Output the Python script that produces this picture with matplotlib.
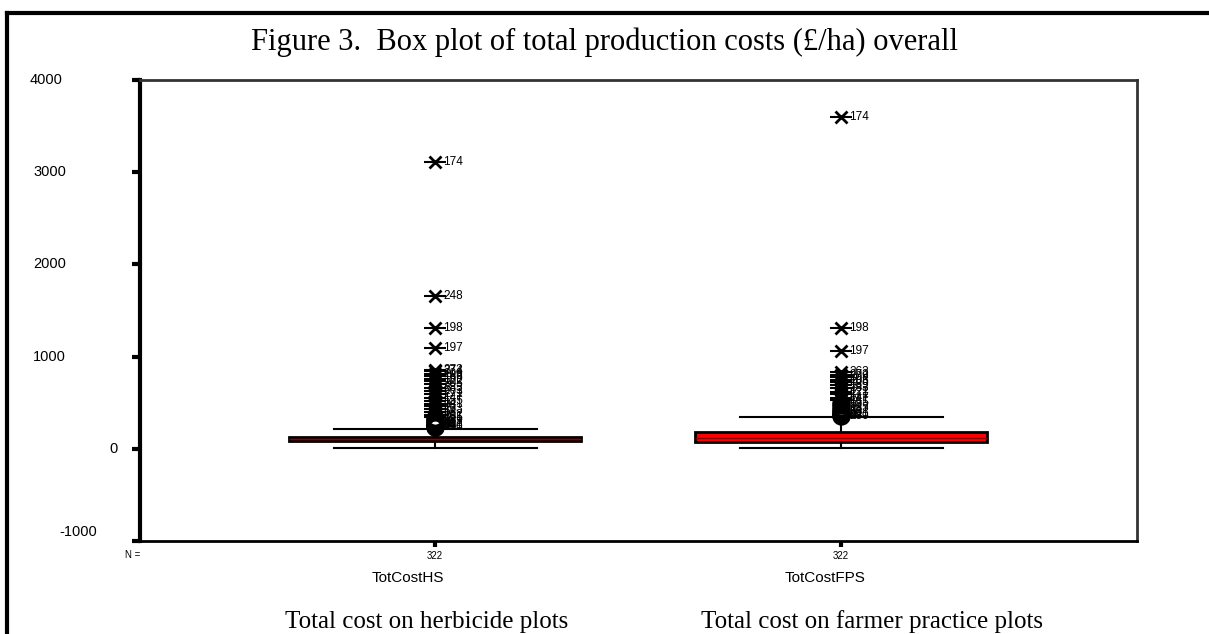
import matplotlib
matplotlib.use("Agg")
import matplotlib.pyplot as plt
from matplotlib.lines import Line2D

# box statistics (£/ha)
groups = ["TotCostHS", "TotCostFPS"]
n_cases = [322, 322]
whisker_low = [5, 10]
q1 = [87, 76]
median = [108, 120]
q3 = [130, 185]
whisker_high = [217, 348]

# extreme values (drawn as crosses) with their case numbers
hs_extreme = [3110, 1655, 1310, 1090, 860, 840, 815, 790, 760, 730, 700, 660, 625, 590, 555, 520, 490, 460, 430, 400, 370, 345]
hs_extreme_id = [174, 248, 198, 197, 272, 274, 209, 189, 169, 122, 205, 283, 263, 271, 147, 155, 241, 98, 133, 58, 212, 301]
fps_extreme = [3600, 1310, 1065, 830, 805, 780, 750, 720, 690, 655, 620, 590, 555, 525]
fps_extreme_id = [174, 198, 197, 263, 272, 209, 193, 205, 189, 283, 122, 271, 147, 241]

# outliers (drawn as circles)
hs_outlier = [330, 315, 300, 285, 272, 262, 252, 245, 238, 232]
hs_outlier_id = [155, 98, 133, 212, 58, 301, 44, 87, 230, 16]
fps_outlier = [500, 470, 445, 420, 400, 385, 372, 362, 355]
fps_outlier_id = [155, 98, 133, 212, 58, 301, 44, 87, 230]

y_ticks = [-1000, 0, 1000, 2000, 3000, 4000]
y_tick_labels = ["-1000", "0", "1000", "2000", "3000", "4000"]

W, H = 1209, 634
fig = plt.figure(figsize=(W / 100, H / 100), dpi=100)
ax = fig.add_axes([140 / W, 1 - 541 / H, (1137 - 140) / W, (541 - 80) / H])

sans = "Liberation Sans"
serif = "Liberation Serif"

pos = [1, 2]
stats = []
for i in range(2):
    stats.append({"whislo": whisker_low[i], "q1": q1[i], "med": median[i],
                  "q3": q3[i], "whishi": whisker_high[i], "fliers": []})

ax.bxp(stats, positions=pos, widths=0.72, patch_artist=True, showfliers=False,
       boxprops=dict(facecolor="#ff0000", edgecolor="black", linewidth=2),
       medianprops=dict(color="#8b0000", linewidth=1),
       whiskerprops=dict(color="black", linewidth=1.5),
       capprops=dict(color="black", linewidth=1.5),
       capwidths=0.5)

def draw_points(x, vals, ids, kind):
    for v, c in zip(vals, ids):
        if kind == "x":
            ax.plot(x, v, marker="_", ms=16, mew=1.5, color="black")
            ax.plot(x, v, marker="x", ms=9, mew=2, color="black")
        else:
            ax.plot(x, v, marker="o", ms=11, mew=2.2, mfc="none", mec="black")
        ax.annotate(str(c), (x, v), xytext=(6, 0), textcoords="offset points",
                    va="center", ha="left", fontsize=8.5, family=sans)

draw_points(1, hs_outlier, hs_outlier_id, "o")
draw_points(1, hs_extreme, hs_extreme_id, "x")
draw_points(2, fps_outlier, fps_outlier_id, "o")
draw_points(2, fps_extreme, fps_extreme_id, "x")

ax.set_xlim(0.273, 2.729)
ax.set_ylim(-1000, 4000)
ax.set_yticks(y_ticks)
ax.set_yticklabels([])
ax.tick_params(axis="y", length=6, width=3)

# SPSS places the y labels a little unevenly; right edge (px) of each label
label_right = {"-1000": 97, "0": 118, "1000": 66, "2000": 66, "3000": 66, "4000": 62}
label_shift = {"-1000": 9}
for v, t in zip(y_ticks, y_tick_labels):
    ax.annotate(t, (0, v), xycoords=("axes fraction", "data"),
                xytext=(label_right[t] - 140, label_shift.get(t, 0)),
                textcoords="offset pixels", ha="right", va="center",
                fontsize=10.5, family=sans)

ax.set_xticks(pos)
ax.set_xticklabels([str(n) for n in n_cases], family=sans, fontsize=7)
ax.tick_params(axis="x", length=4, width=3, pad=3)

ax.spines["left"].set_linewidth(3)
ax.spines["bottom"].set_linewidth(2)
ax.spines["top"].set_linewidth(2)
ax.spines["right"].set_linewidth(2)
ax.spines["top"].set_color("#333333")
ax.spines["right"].set_color("#333333")

fig.text(140 / W, 1 - 555 / H, "N =", ha="right", va="center", fontsize=7, family=sans)
fig.text(408 / W, 1 - 578 / H, groups[0], ha="center", va="center", fontsize=11, family=sans)
fig.text(825 / W, 1 - 578 / H, groups[1], ha="center", va="center", fontsize=11, family=sans)

fig.text(0.5, 1 - 42 / H, "Figure 3.  Box plot of total production costs (\u00a3/ha) overall",
         ha="center", va="center", fontsize=22, family=serif)
fig.text(427 / W, 1 - 622 / H, "Total cost on herbicide plots",
         ha="center", va="center", fontsize=18, family=serif)
fig.text(872 / W, 1 - 622 / H, "Total cost on farmer practice plots",
         ha="center", va="center", fontsize=18, family=serif)

# outer frame of the figure
fig.add_artist(Line2D([7 / W, 1], [1 - 13 / H, 1 - 13 / H], color="black", lw=3))
fig.add_artist(Line2D([7 / W, 7 / W], [0, 1 - 13 / H], color="black", lw=3))

fig.savefig("out.png", dpi=100)
